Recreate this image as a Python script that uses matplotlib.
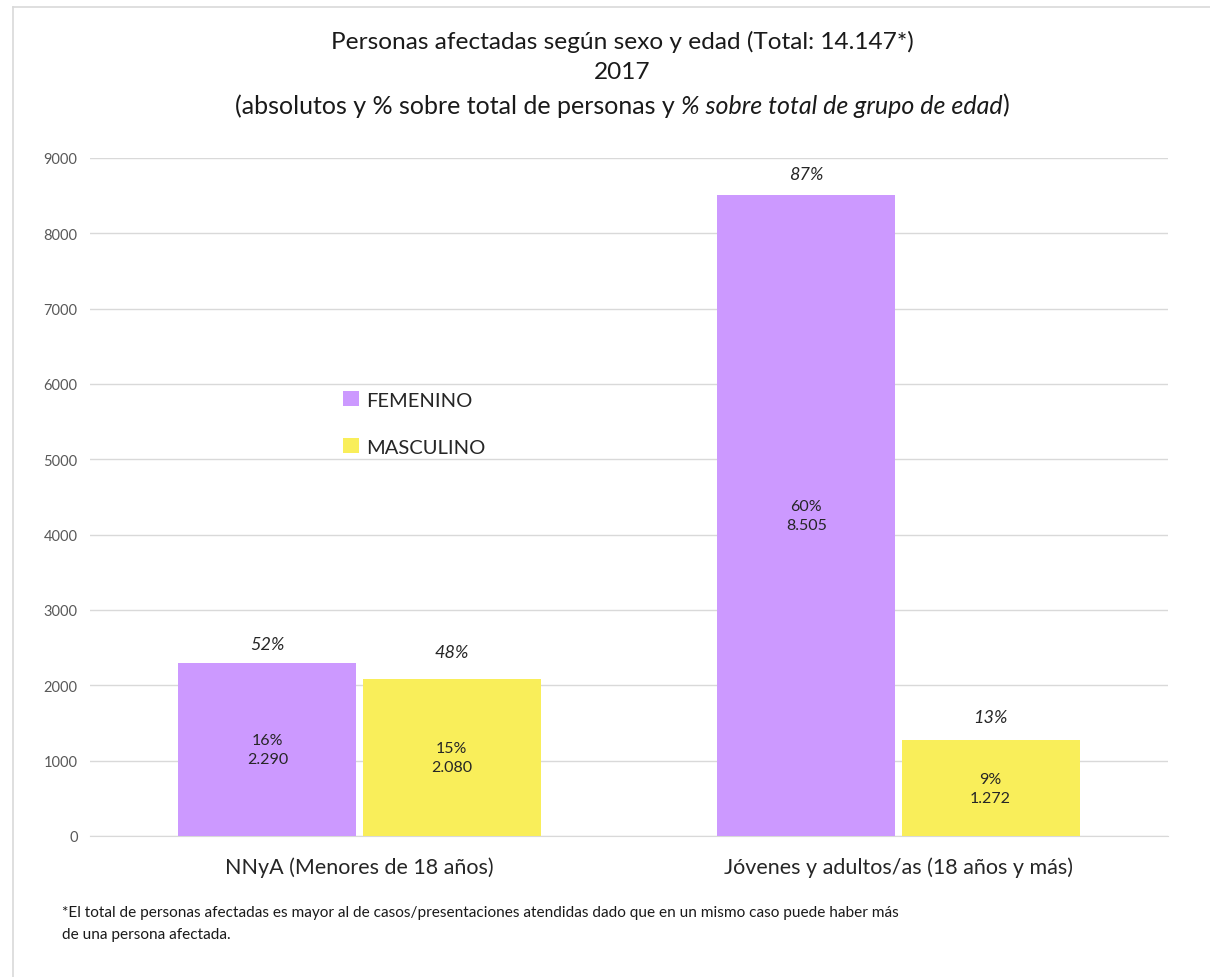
import matplotlib
matplotlib.use("Agg")
import matplotlib.pyplot as plt
import numpy as np

plt.rcParams['font.family'] = ['Lato', 'DejaVu Sans']

categories = ["NNyA (Menores de 18 años)", "Jóvenes y adultos/as (18 años y más)"]
series = ["FEMENINO", "MASCULINO"]
femenino = [2290, 8505]
masculino = [2080, 1272]
pct_total_fem = ["16%", "60%"]
pct_total_masc = ["15%", "9%"]
pct_grupo_fem = ["52%", "87%"]
pct_grupo_masc = ["48%", "13%"]
yticks = [0, 1000, 2000, 3000, 4000, 5000, 6000, 7000, 8000, 9000]

colors = ["#CC99FF", "#F9EE5A"]

fig = plt.figure(figsize=(12.1, 9.78), dpi=100)
ax = fig.add_axes([90/1210, 141/978, 1078/1210, 678/978])

# chart frame lines (left & top)
fig.add_artist(plt.Line2D([13/1210, 13/1210], [0, 1 - 8/978], color="#D9D9D9", lw=1.2, transform=fig.transFigure))
fig.add_artist(plt.Line2D([13/1210, 1], [1 - 8/978, 1 - 8/978], color="#D9D9D9", lw=1.2, transform=fig.transFigure))

x = np.arange(len(categories))
w = 0.330
off = 0.171
ax.bar(x - off, femenino, w, color=colors[0], label=series[0], zorder=3)
ax.bar(x + off, masculino, w, color=colors[1], label=series[1], zorder=3)

ax.set_xlim(-0.5, 1.5)
ax.set_ylim(0, 9000)
ax.set_yticks(yticks)
ax.set_yticklabels([str(t) for t in yticks], color="#595959", fontsize=10.5)
ax.tick_params(axis='y', length=0, pad=9)
ax.set_xticks(x)
ax.set_xticklabels(categories, fontsize=15.5, color="#262626")
ax.tick_params(axis='x', length=0, pad=15)
ax.grid(axis='y', color="#D9D9D9", lw=1, zorder=0)
for s in ["top", "right", "left"]:
    ax.spines[s].set_visible(False)
ax.spines["bottom"].set_color("#D9D9D9")

def fmt(v):
    return f"{v:,}".replace(",", ".")

# inner labels
for xi, v, p in zip(x - off, femenino, pct_total_fem):
    ax.text(xi, v / 2, f"{p}\n{fmt(v)}", ha="center", va="center", fontsize=11.5, color="#262626", linespacing=1.45, zorder=4)
for xi, v, p in zip(x + off, masculino, pct_total_masc):
    ax.text(xi, v / 2, f"{p}\n{fmt(v)}", ha="center", va="center", fontsize=11.5, color="#262626", linespacing=1.45, zorder=4)

# italic top labels (offsets in points)
fem_off = [14, 15]
masc_off = [20, 17]
for xi, v, p, o in zip(x - off, femenino, pct_grupo_fem, fem_off):
    ax.annotate(p, (xi, v), xytext=(0, o), textcoords="offset points", ha="center", va="center",
                fontsize=13, style="italic", color="#262626")
for xi, v, p, o in zip(x + off, masculino, pct_grupo_masc, masc_off):
    ax.annotate(p, (xi, v), xytext=(0, o), textcoords="offset points", ha="center", va="center",
                fontsize=13, style="italic", color="#262626")

leg = ax.legend(loc="upper left", bbox_to_anchor=(245/1078, (819 - 366) / 678), frameon=False,
                fontsize=14.5, handlelength=0.8, handleheight=0.8, handletextpad=0.35, labelspacing=1.45,
                borderaxespad=0)
for t in leg.get_texts():
    t.set_color("#262626")

# title
cx = 622 / 1210
fig.text(cx, 1 - 42/978, "Personas afectadas según sexo y edad (Total: 14.147*)", ha="center", va="center", fontsize=17.6, color="#1a1a1a")
fig.text(cx, 1 - 73/978, "2017", ha="center", va="center", fontsize=17.6, color="#1a1a1a")
t1 = "(absolutos y % sobre total de personas y "
t2 = "% sobre total de grupo de edad"
t3 = ")"
fig.canvas.draw()
r = fig.canvas.get_renderer()
parts = [(t1, "normal"), (t2, "italic"), (t3, "normal")]
objs = []
for s, st in parts:
    objs.append(fig.text(0, 1 - 106/978, s, ha="left", va="center", fontsize=18, style=st, color="#1a1a1a"))
widths = [o.get_window_extent(r).width for o in objs]
total = sum(widths)
xpos = 622 - total / 2
for o, wd in zip(objs, widths):
    o.set_x(xpos / 1210)
    xpos += wd

fig.text(62/1210, 1 - 913/978, "*El total de personas afectadas es mayor al de casos/presentaciones atendidas dado que en un mismo caso puede haber más",
         ha="left", va="center", fontsize=11.1, color="#1a1a1a")
fig.text(62/1210, 1 - 935/978, "de una persona afectada.", ha="left", va="center", fontsize=11.1, color="#1a1a1a")

fig.savefig("out.png", dpi=100)
